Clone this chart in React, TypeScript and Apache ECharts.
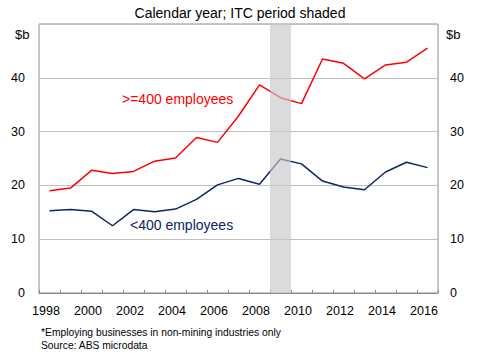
import React, { useEffect, useRef } from "react";
import * as echarts from "echarts";

const years = ["1998","1999","2000","2001","2002","2003","2004","2005","2006","2007","2008","2009","2010","2011","2012","2013","2014","2015","2016"];
const large = [19.0,19.5,22.8,22.2,22.6,24.5,25.1,28.9,28.0,32.9,38.7,36.3,35.2,43.5,42.7,39.8,42.4,42.9,45.5];
const small = [15.3,15.5,15.2,12.5,15.5,15.1,15.6,17.4,20.1,21.3,20.2,24.9,24.0,20.8,19.7,19.2,22.5,24.3,23.3];
const shadedYears = ["2009"];
const yTicks = [0, 10, 20, 30, 40, 50];

const FONT = "Liberation Sans, Arial, sans-serif";

export default function App() {
  const ref = useRef<HTMLDivElement>(null);
  useEffect(() => {
    const chart = echarts.init(ref.current!, null, { renderer: "svg" });
    const yMax = yTicks[yTicks.length - 1];
    const yAxisCommon = {
      type: "value",
      min: yTicks[0],
      max: yMax,
      interval: 10,
      axisLine: { show: false },
      axisTick: { show: false },
      axisLabel: {
        color: "#000",
        fontSize: 12.5,
        fontFamily: FONT,
        formatter: (v: number) => (v === yMax ? "" : String(v)),
      },
    };
    chart.setOption({
      animation: false,
      title: {
        text: "Calendar year; ITC period shaded",
        left: "center",
        top: 1,
        textStyle: { fontSize: 14, fontWeight: "normal", color: "#000", fontFamily: FONT },
      },
      grid: {
        left: 39,
        right: 42,
        top: 24,
        bottom: 62,
        show: true,
        borderColor: "#8c8c8c",
        borderWidth: 1,
        backgroundColor: "transparent",
      },
      xAxis: {
        type: "category",
        data: years,
        boundaryGap: true,
        axisLine: { show: true, lineStyle: { color: "#8c8c8c" } },
        axisTick: { show: true, inside: true, length: 3, interval: 0, lineStyle: { color: "#8c8c8c" } },
        axisLabel: { interval: 1, color: "#000", fontSize: 12.5, fontFamily: FONT, margin: 11, padding: [0, 7, 0, 0] },
        splitLine: { show: false },
      },
      yAxis: [
        {
          ...yAxisCommon,
          position: "left",
          axisLabel: { ...yAxisCommon.axisLabel, margin: 14 },
          splitLine: { show: true, lineStyle: { color: "#c0c0c0", width: 1 } },
        },
        {
          ...yAxisCommon,
          position: "right",
          axisLabel: { ...yAxisCommon.axisLabel, margin: 12 },
          splitLine: { show: false },
        },
      ],
      series: [
        {
          name: ">=400 employees",
          type: "line",
          data: large,
          symbol: "none",
          lineStyle: { color: "#ff0000", width: 1.5 },
          itemStyle: { color: "#ff0000" },
          z: 2,
        },
        {
          name: "<400 employees",
          type: "line",
          data: small,
          symbol: "none",
          lineStyle: { color: "#0d2466", width: 1.5 },
          itemStyle: { color: "#0d2466" },
          z: 2,
        },
        {
          name: "ITC",
          type: "bar",
          data: years.map((y) => (shadedYears.includes(y) ? yMax : null)),
          barWidth: "100%",
          silent: true,
          itemStyle: { color: "rgba(200,200,200,0.65)" },
          z: 5,
        },
      ],
      graphic: [
        { type: "text", left: 15, top: 28, style: { text: "$b", fontSize: 13, fontFamily: FONT, fill: "#000" } },
        { type: "text", left: 446, top: 28, style: { text: "$b", fontSize: 13, fontFamily: FONT, fill: "#000" } },
        { type: "text", left: 122, top: 92, style: { text: ">=400 employees", fontSize: 14, fontFamily: FONT, fill: "#ff0000" } },
        { type: "text", left: 130, top: 218, style: { text: "<400 employees", fontSize: 14, fontFamily: FONT, fill: "#0d2466" } },
        { type: "text", left: 41, top: 327, style: { text: "*Employing businesses in non-mining industries only", fontSize: 10.3, fontFamily: FONT, fill: "#000" } },
        { type: "text", left: 41, top: 340, style: { text: "Source: ABS microdata", fontSize: 10.3, fontFamily: FONT, fill: "#000" } },
      ],
    });
    return () => chart.dispose();
  }, []);
  return <div ref={ref} style={{ width: 480, height: 355, position: "absolute", left: 0, top: 0 }} />;
}
